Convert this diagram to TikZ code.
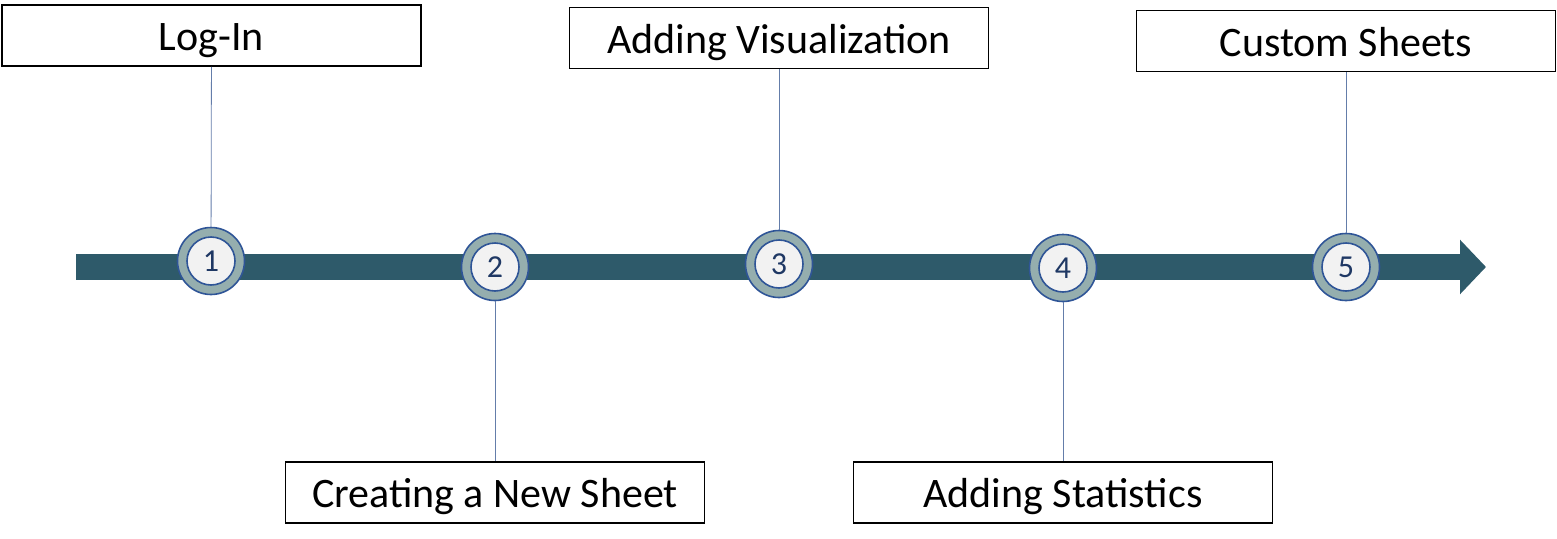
\documentclass[tikz,border=0pt]{standalone}
\usepackage{fontspec}
\setmainfont{Carlito}
\usetikzlibrary{positioning, arrows.meta, calc}
\definecolor{ShaftTeal}{RGB}{46,90,106}
\definecolor{RingGray}{RGB}{149,174,174}
\definecolor{RingBlue}{RGB}{47,85,151}
\definecolor{NumNavy}{RGB}{31,56,100}
\definecolor{StemBlue}{RGB}{100,125,170}

\tikzset{
  stagebox/.style={draw, line width=1.6pt, fill=white, minimum width=419pt, minimum height=61pt, inner sep=0pt, text height=30pt, text depth=0pt, font=\fontsize{42}{50}\selectfont},
  ring/.style={circle, draw=RingBlue, line width=1.6pt, fill=RingGray, minimum size=67pt, inner sep=0pt},
  core/.style={circle, draw=RingBlue, line width=1.6pt, fill=black!5, minimum size=48pt, inner sep=0pt, text=NumNavy, font=\fontsize{32}{38}\selectfont},
  stem/.style={draw=StemBlue, line width=0.8pt},
  shaft/.style={draw=ShaftTeal, line width=26pt, -{Triangle[length=26pt, width=53pt]}}
}

\begin{document}
\begin{tikzpicture}[x=1pt, y=-1pt]
            \useasboundingbox (0,0) rectangle (1557,538);
            % Timeline arrow
            \coordinate (start) at (76,267);
            \coordinate (tip) at (1486,267);
            \draw[shaft] (start) -- (tip);
            
            % Boxes
            \node[stagebox] (login) at (211.5,35.5) {Log-In};
            \node[stagebox] (newsheet) at (495,492.5) {Creating a New Sheet};
            \node[stagebox] (visual) at (779,38) {Adding Visualization};
            \node[stagebox] (stats) at (1063,492.5) {Adding Statistics};
            \node[stagebox] (custom) at (1346,41) {Custom Sheets};
            
            % Steps
            \node[ring] (r1) at (211,261) {};
            \node[ring] (r2) at (495,267) {};
            \node[ring] (r3) at (779,264) {};
            \node[ring] (r4) at (1063,268) {};
            \node[ring] (r5) at (1346,267) {};
            \node[core] (n1) at (r1) {1};
            \node[core] (n2) at (r2) {2};
            \node[core] (n3) at (r3) {3};
            \node[core] (n4) at (r4) {4};
            \node[core] (n5) at (r5) {5};
            
            % Stems
            \draw[stem] (login) -- (r1);
            \draw[stem] (r2) -- (newsheet);
            \draw[stem] (visual) -- (r3);
            \draw[stem] (r4) -- (stats);
            \draw[stem] (custom) -- (r5);
        \end{tikzpicture}
\end{document}
